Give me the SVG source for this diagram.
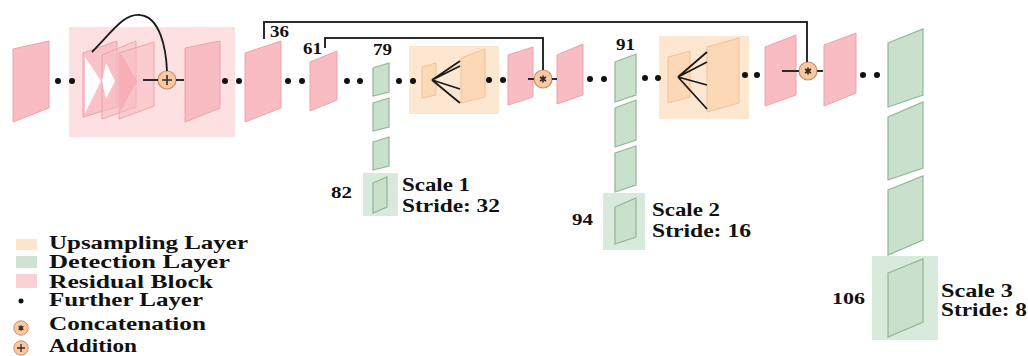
<svg xmlns="http://www.w3.org/2000/svg" width="1028" height="356" viewBox="0 0 1028 356">
<style>
.pk{fill:#f9bcc3;stroke:#eca3ab;stroke-width:1}
.rb{fill:#fde0e1}
.ub{fill:#fde7d1}
.pc{fill:#fcd8b6;stroke:#eec29c;stroke-width:1}
.gr{fill:#c9e0cc;stroke:#93b59a;stroke-width:1.2}
.gb{fill:#d8eadb}
.ln{fill:none;stroke:#2b2b2b;stroke-width:2}
.fn{fill:none;stroke:#1a1a1a;stroke-width:1.8}
.dot{fill:#111}
.op{fill:#f8c9a2;stroke:#c98a6a;stroke-width:1.2}
.sym{fill:none;stroke:#3a2a20;stroke-width:1.6}
text{font-family:"Liberation Serif","Times New Roman",serif;font-weight:bold;fill:#111}
.lab{font-size:16px}
.sc{font-size:18px}
.lg{font-size:18px}
</style>
<defs>
<g id="concat"><circle r="9" class="op"/><path d="M0,-3.5V3.5M-3,-2L3,2M-3,2L3,-2" class="sym" stroke-width="1.3"/></g>
<g id="plus"><circle r="9" class="op"/><path d="M0,-5V5M-5,0H5" class="sym" stroke-width="2"/></g>
</defs>

<g id="layer-input"><polygon class="pk" points="13,49 49,41 49,108 13,122"/></g>

<g id="residual-block">
<rect class="rb" x="69" y="27" width="166" height="110"/>
<polygon class="pk" points="83,53 117,41 117,107 83,117" fill-opacity="0.85"/>
<polygon fill="#fff" points="85,57 101,81 85,113"/>
<polygon class="pk" points="102,55 136,41 136,107 102,119" fill-opacity="0.6"/>
<polygon fill="#fff" points="106,63 115,81 106,99 102,81"/>
<polygon class="pk" points="119,53 154,42 154,106 119,119" fill-opacity="0.6"/>
<polygon fill="#f59aa5" fill-opacity="0.5" points="120,52 137,81 120,112"/>
<use href="#plus" x="167" y="80"/>
<polygon class="pk" points="185,48 220,41 220,108 185,122"/>
</g>

<g id="layer-36">
<polygon class="pk" points="245,53 281,41 281,108 245,122"/>
<text class="lab" x="270" y="37" textLength="19" lengthAdjust="spacingAndGlyphs">36</text>
</g>

<g id="layer-61">
<polygon class="pk" points="310,62 337,51 337,100 310,111"/>
<text class="lab" x="303" y="54" textLength="19" lengthAdjust="spacingAndGlyphs">61</text>
</g>

<g id="detection-1">
<text class="lab" x="373" y="55" textLength="19" lengthAdjust="spacingAndGlyphs">79</text>
<polygon class="gr" points="373,68 389,63 389,92 373,96"/>
<polygon class="gr" points="373,103 389,98 389,127 373,131"/>
<polygon class="gr" points="373,142 389,137 389,166 373,170"/>
<rect class="gb" x="363" y="173" width="35" height="43"/>
<polygon class="gr" points="373,183 387,177 387,207 373,213"/>
<text class="lab" x="331" y="198" textLength="21" lengthAdjust="spacingAndGlyphs">82</text>
<text class="sc" x="402" y="191" textLength="68" lengthAdjust="spacingAndGlyphs">Scale 1</text>
<text class="sc" x="402" y="212" textLength="98" lengthAdjust="spacingAndGlyphs">Stride: 32</text>
</g>

<g id="upsampling-1">
<rect class="ub" x="409" y="46" width="90" height="68"/>
<polygon class="pc" points="422,67 436,63 436,95 422,98"/>
<polygon class="pc" points="461,58 485,49 485,97 461,103"/>
<path class="fn" d="M432,80L460,61M432,80L460,66M432,80L460,89M432,80L460,103"/>
</g>

<g id="concat-1">
<polygon class="pk" points="508,55 533,47 533,97 508,105"/>
<use href="#concat" x="543" y="79"/>
<polygon class="pk" points="557,55 583,44 583,95 557,104"/>
</g>

<g id="detection-2">
<text class="lab" x="616" y="50" textLength="19" lengthAdjust="spacingAndGlyphs">91</text>
<polygon class="gr" points="615,62 636,54 636,95 615,102"/>
<polygon class="gr" points="615,108 636,100 636,140 615,147"/>
<polygon class="gr" points="615,153 636,146 636,185 615,192"/>
<rect class="gb" x="603" y="193" width="42" height="57"/>
<polygon class="gr" points="615,207 636,198 636,237 615,244"/>
<text class="lab" x="572" y="225" textLength="21" lengthAdjust="spacingAndGlyphs">94</text>
<text class="sc" x="652" y="216" textLength="68" lengthAdjust="spacingAndGlyphs">Scale 2</text>
<text class="sc" x="652" y="237" textLength="99" lengthAdjust="spacingAndGlyphs">Stride: 16</text>
</g>

<g id="upsampling-2">
<rect class="ub" x="659" y="36" width="90" height="83"/>
<polygon class="pc" points="668,57 690,51 690,97 668,103"/>
<polygon class="pc" points="707,47 739,38 739,103 707,112"/>
<path class="fn" d="M678,77L707,52M678,77L707,62M678,77L707,85M678,77L707,109"/>
</g>

<g id="concat-2">
<polygon class="pk" points="765,47 796,35 796,95 765,106"/>
<use href="#concat" x="808" y="71"/>
<polygon class="pk" points="824,45 856,33 856,93 824,106"/>
</g>

<g id="detection-3">
<polygon class="gr" points="888,43 923,29 923,95 888,107"/>
<polygon class="gr" points="888,117 923,102 923,168 888,180"/>
<polygon class="gr" points="888,190 923,176 923,240 888,255"/>
<rect class="gb" x="872" y="256" width="66" height="84"/>
<polygon class="gr" points="888,273 923,259 923,322 888,337"/>
<text class="lab" x="832" y="304" textLength="33" lengthAdjust="spacingAndGlyphs">106</text>
<text class="sc" x="941" y="297" textLength="72" lengthAdjust="spacingAndGlyphs">Scale 3</text>
<text class="sc" x="941" y="316" textLength="86" lengthAdjust="spacingAndGlyphs">Stride: 8</text>
</g>

<g id="legend">
<rect x="16" y="239" width="21" height="11" fill="#fde5cc"/>
<text class="lg" x="49" y="249" textLength="199" lengthAdjust="spacingAndGlyphs">Upsampling Layer</text>
<rect x="16" y="256" width="21" height="12" fill="#cfe3d2"/>
<text class="lg" x="49" y="268" textLength="181" lengthAdjust="spacingAndGlyphs">Detection Layer</text>
<rect x="16" y="274" width="21" height="14" fill="#fbd0d5"/>
<text class="lg" x="49" y="288" textLength="164" lengthAdjust="spacingAndGlyphs">Residual Block</text>
<circle class="dot" cx="21" cy="301" r="2.5"/>
<text class="lg" x="49" y="306" textLength="154" lengthAdjust="spacingAndGlyphs">Further Layer</text>
<use href="#concat" transform="translate(21,328) scale(0.8)"/>
<text class="lg" x="49" y="330" textLength="157" lengthAdjust="spacingAndGlyphs">Concatenation</text>
<use href="#plus" transform="translate(21,348) scale(0.8)"/>
<text class="lg" x="49" y="352" textLength="88" lengthAdjust="spacingAndGlyphs">Addition</text>
</g>

<g id="connectors">
<path class="ln" d="M264,39V22H807V62"/>
<path class="ln" d="M325,48V38H543V70"/>
<path class="fn" d="M92,52C112,32 124,13 140,15C160,17 166,48 167,71"/>
<path class="ln" d="M143,80H158M176,80H184"/>
<path class="ln" d="M528,79H534M552,79H557"/>
<path class="ln" d="M782,71H799M817,71H823"/>
</g>

<g id="dots">
<circle class="dot" cx="58" cy="81" r="3"/><circle class="dot" cx="72" cy="81" r="3"/>
<circle class="dot" cx="225" cy="81" r="3"/><circle class="dot" cx="239" cy="81" r="3"/>
<circle class="dot" cx="288" cy="81" r="3"/><circle class="dot" cx="302" cy="81" r="3"/>
<circle class="dot" cx="347" cy="81" r="3"/><circle class="dot" cx="360" cy="81" r="3"/>
<circle class="dot" cx="399" cy="81" r="3"/><circle class="dot" cx="413" cy="81" r="3"/>
<circle class="dot" cx="489" cy="80" r="3"/><circle class="dot" cx="503" cy="80" r="3"/>
<circle class="dot" cx="590" cy="79" r="3"/><circle class="dot" cx="604" cy="79" r="3"/>
<circle class="dot" cx="645" cy="78" r="3"/><circle class="dot" cx="658" cy="78" r="3"/>
<circle class="dot" cx="745" cy="75" r="3"/><circle class="dot" cx="757" cy="75" r="3"/>
<circle class="dot" cx="863" cy="75" r="3"/><circle class="dot" cx="877" cy="75" r="3"/>
</g>
</svg>
